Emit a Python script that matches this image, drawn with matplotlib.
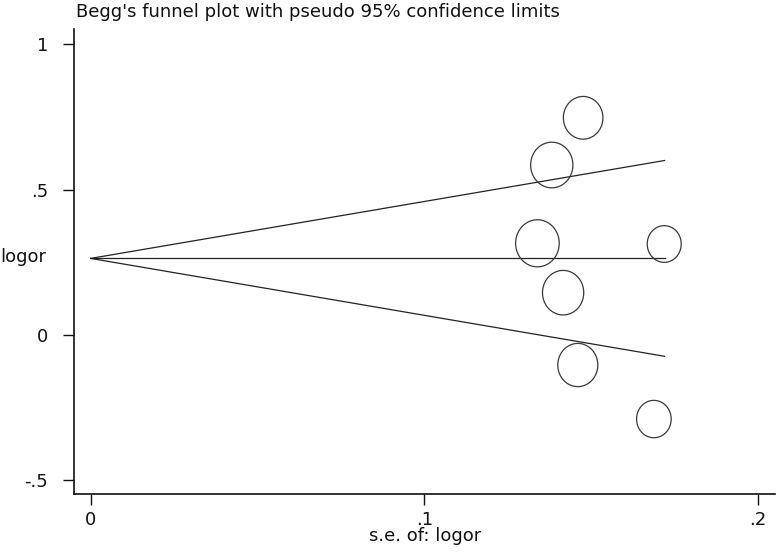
"""
    Begg's funnel plot with pseudo 95% confidence limits
"""
import numpy as np
import matplotlib
matplotlib.use("Agg")
from matplotlib import pyplot as plt
from matplotlib.path import Path

# -- Study data --
se_logor = [0.1476, 0.1382, 0.1339, 0.1719, 0.1416, 0.1460, 0.1688]
logor = [0.747, 0.5845, 0.315, 0.3126, 0.145, -0.104, -0.290]

# -- Pooled estimate and pseudo 95% limits (start at se=0, end at max se) --
line_se = [0.0, 0.172]
pooled = [0.263, 0.263]
upper_limit = [0.263, 0.600]
lower_limit = [0.263, -0.074]

x_ticks = [0, 0.1, 0.2]
x_ticklabels = ["0", ".1", ".2"]
y_ticks = [-0.5, 0, 0.5, 1]
y_ticklabels = ["-.5", "0", ".5", "1"]

plt.rcParams['font.family'] = ['DejaVu Sans']
FS = 13
TXT = "#111111"

fig = plt.figure(figsize=(7.78, 5.53), dpi=100)
ax = fig.add_axes([74.3 / 778, 59 / 553, (775 - 74.3) / 778, (494 - 29) / 553])

# -- Pseudo confidence lines --
line_color = "#222222"
ax.plot(line_se, pooled, color=line_color, lw=0.9)
ax.plot(line_se, upper_limit, color=line_color, lw=0.9)
ax.plot(line_se, lower_limit, color=line_color, lw=0.9)

# -- Circles sized by weight (1/se^2), slightly taller than wide --
theta = np.linspace(0, 2 * np.pi, 120)
ellipse = Path(np.column_stack([np.cos(theta) / 1.08, np.sin(theta)]))
se_arr = np.array(se_logor)
sizes = (4.54 / se_arr) ** 2
ax.scatter(se_logor, logor, s=sizes, marker=ellipse, facecolors="none",
           edgecolors="#3a3a3a", linewidths=0.9, zorder=3)

# -- Axes styling (Stata look) --
ax.set_xlim(-0.0049, 0.2051)
ax.set_ylim(-0.548, 1.0527)
ax.spines['top'].set_visible(False)
ax.spines['right'].set_visible(False)
for side in ['left', 'bottom']:
    ax.spines[side].set_linewidth(1.2)
    ax.spines[side].set_color(TXT)

ax.set_xticks(x_ticks)
ax.set_xticklabels(x_ticklabels)
ax.set_yticks(y_ticks)
ax.set_yticklabels(y_ticklabels)
ax.tick_params(axis='both', direction='out', length=8, width=1.0, color=TXT,
               labelsize=FS, labelcolor=TXT)
ax.tick_params(axis='y', pad=11)
ax.tick_params(axis='x', pad=4)

ax.set_xlabel("s.e. of: logor", fontsize=FS, color=TXT, labelpad=-1)
ax.set_ylabel("logor", fontsize=FS, color=TXT, rotation=0, ha='left', va='center')
ax.yaxis.set_label_coords(-0.105, 0.51)

fig.text(76 / 778, 1 - 17 / 553, "Begg's funnel plot with pseudo 95% confidence limits",
         fontsize=FS, color=TXT, ha='left', va='baseline')

fig.savefig("out.png", dpi=100)
